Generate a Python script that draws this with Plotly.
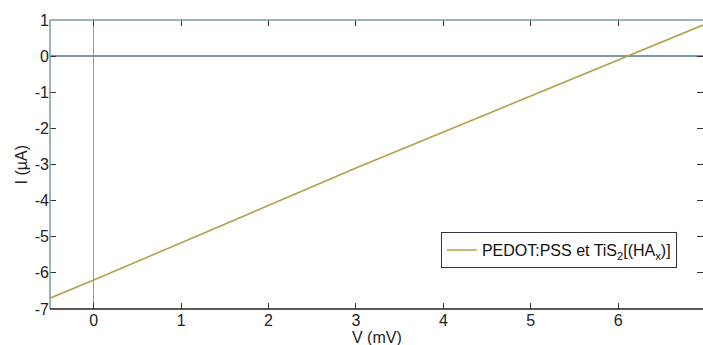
import plotly.graph_objects as go

V_mV = [-0.5, 0.0, 3.0, 6.12, 6.97]
I_uA = [-6.7, -6.2, -3.1, 0.0, 0.86]
series_name = "PEDOT:PSS et TiS<sub>2</sub>[(HA<sub>x</sub>)]"
x_ticks = [0, 1, 2, 3, 4, 5, 6]
y_ticks = [1, 0, -1, -2, -3, -4, -5, -6, -7]

axis_blue = "#7b98a6"
fs = 16
fig = go.Figure()
fig.add_trace(go.Scatter(x=V_mV, y=I_uA, mode="lines", name=series_name,
                         line=dict(color="#b3a04c", width=1.6), showlegend=True))

fig.update_layout(
    width=703, height=345,
    margin=dict(l=50, r=0, t=20, b=36, autoexpand=False),
    paper_bgcolor="white", plot_bgcolor="white",
    font=dict(family="Liberation Sans, Arial", size=fs, color="#222"),
    showlegend=True,
    legend=dict(x=0.96, y=0.266, xanchor="right", yanchor="top",
                bordercolor="#334", borderwidth=1, bgcolor="white",
                font=dict(size=fs, color="#111"),
                tracegroupgap=0, itemwidth=30),
)
fig.update_xaxes(range=[-0.5, 6.97], tickvals=x_ticks, ticktext=[str(t) for t in x_ticks],
                 ticks="inside", ticklen=6, tickcolor="#333", showline=False,
                 mirror="ticks", showgrid=False, automargin=False,
                 zeroline=True, zerolinecolor="#8a9ca6", zerolinewidth=1.2,
                 tickfont=dict(size=fs))
fig.update_yaxes(range=[-7, 1], tickvals=y_ticks, ticktext=[str(t) for t in y_ticks],
                 ticks="inside", ticklen=6, tickcolor="#333", showline=False,
                 mirror="ticks", showgrid=False, automargin=False,
                 zeroline=True, zerolinecolor=axis_blue, zerolinewidth=1.5,
                 tickfont=dict(size=fs))
# frame lines
fig.add_shape(type="line", xref="paper", yref="paper", x0=0, x1=1, y0=1, y1=1,
              line=dict(color=axis_blue, width=1.5), layer="above")
fig.add_shape(type="line", xref="paper", yref="paper", x0=0, x1=0, y0=0, y1=1,
              line=dict(color=axis_blue, width=1.5), layer="above")
fig.add_shape(type="line", xref="paper", yref="paper", x0=0, x1=1, y0=0, y1=0,
              line=dict(color="#2a2020", width=1.6), layer="above")
fig.add_annotation(text="V (mV)", xref="paper", yref="paper", x=0.501, y=-0.1,
                   showarrow=False, yanchor="middle", font=dict(size=fs))
fig.add_annotation(text="I (µA)", xref="paper", yref="paper", x=-0.043, y=0.5,
                   showarrow=False, textangle=-90, xanchor="center", font=dict(size=fs))
fig.write_html("out.html", config={"displayModeBar": False},
               post_script="document.body.style.margin='0';document.body.style.overflow='hidden';")
